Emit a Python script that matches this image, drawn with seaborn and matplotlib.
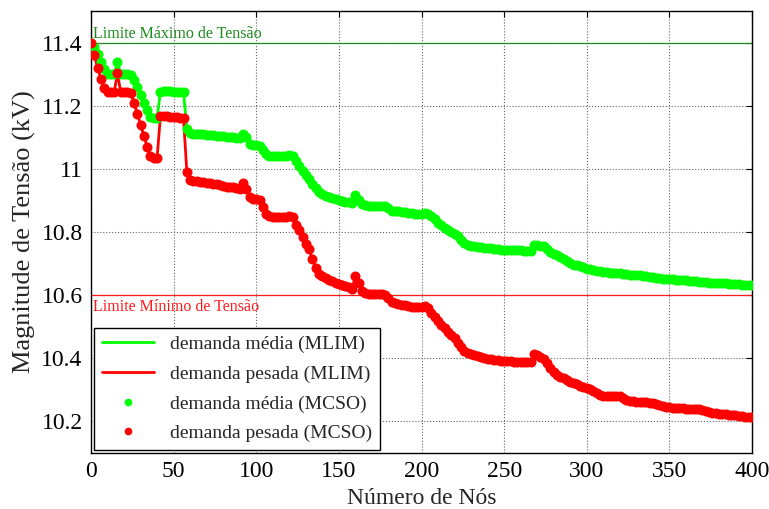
import matplotlib
matplotlib.use("Agg")
import matplotlib.pyplot as plt
import seaborn as sns
import pandas as pd
from matplotlib.lines import Line2D

# nós (passo 2) e tensões (kV)
nos = list(range(0, 401, 2))

media = [
    11.400, 11.385, 11.365, 11.340, 11.315, 11.300, 11.300, 11.300, 11.338, 11.300,
    11.300, 11.300, 11.298, 11.280, 11.258, 11.235, 11.210, 11.185, 11.163, 11.160,
    11.160, 11.245, 11.246, 11.246, 11.246, 11.245, 11.245, 11.245, 11.244, 11.125,
    11.112, 11.110, 11.110, 11.110, 11.109, 11.108, 11.107, 11.106, 11.105, 11.104,
    11.103, 11.102, 11.101, 11.100, 11.099, 11.097, 11.110, 11.100, 11.080, 11.075,
    11.075, 11.073, 11.060, 11.047, 11.042, 11.042, 11.042, 11.041, 11.041, 11.041,
    11.045, 11.040, 11.025, 11.008, 10.994, 10.982, 10.967, 10.952, 10.938, 10.926,
    10.920, 10.915, 10.910, 10.907, 10.904, 10.900, 10.898, 10.896, 10.894, 10.893,
    10.917, 10.900, 10.890, 10.884, 10.882, 10.882, 10.882, 10.881, 10.881, 10.881,
    10.876, 10.868, 10.866, 10.865, 10.864, 10.862, 10.860, 10.859, 10.858, 10.857,
    10.857, 10.861, 10.858, 10.850, 10.840, 10.830, 10.821, 10.813, 10.806, 10.800,
    10.795, 10.786, 10.776, 10.766, 10.760, 10.757, 10.755, 10.753, 10.751, 10.750,
    10.750, 10.749, 10.747, 10.745, 10.744, 10.744, 10.743, 10.743, 10.742, 10.742,
    10.742, 10.741, 10.741, 10.740, 10.760, 10.758, 10.757, 10.755, 10.747, 10.738,
    10.731, 10.727, 10.720, 10.713, 10.707, 10.701, 10.697, 10.695, 10.692, 10.689,
    10.684, 10.682, 10.679, 10.677, 10.675, 10.673, 10.672, 10.671, 10.671, 10.671,
    10.670, 10.668, 10.666, 10.665, 10.665, 10.664, 10.663, 10.662, 10.660, 10.658,
    10.656, 10.654, 10.653, 10.652, 10.651, 10.650, 10.650, 10.649, 10.648, 10.648,
    10.647, 10.646, 10.645, 10.644, 10.643, 10.643, 10.642, 10.640, 10.639, 10.638,
    10.638, 10.637, 10.637, 10.636, 10.635, 10.635, 10.634, 10.633, 10.632, 10.632,
    10.631,
]

pesada = [
    11.400, 11.360, 11.320, 11.285, 11.255, 11.243, 11.242, 11.242, 11.303, 11.242,
    11.242, 11.242, 11.240, 11.210, 11.175, 11.140, 11.105, 11.070, 11.040, 11.035,
    11.035, 11.166, 11.166, 11.166, 11.165, 11.164, 11.163, 11.162, 11.160, 10.990,
    10.966, 10.962, 10.960, 10.958, 10.957, 10.955, 10.954, 10.952, 10.951, 10.950,
    10.946, 10.944, 10.943, 10.941, 10.939, 10.937, 10.956, 10.935, 10.910, 10.903,
    10.903, 10.902, 10.880, 10.858, 10.850, 10.849, 10.849, 10.848, 10.848, 10.848,
    10.850, 10.846, 10.822, 10.805, 10.785, 10.762, 10.745, 10.715, 10.685, 10.668,
    10.660, 10.654, 10.647, 10.644, 10.640, 10.635, 10.631, 10.628, 10.625, 10.620,
    10.660, 10.640, 10.614, 10.606, 10.603, 10.603, 10.603, 10.603, 10.603, 10.602,
    10.590, 10.578, 10.574, 10.572, 10.570, 10.568, 10.566, 10.564, 10.562, 10.561,
    10.561, 10.566, 10.560, 10.545, 10.530, 10.517, 10.506, 10.496, 10.484, 10.474,
    10.465, 10.450, 10.435, 10.422, 10.416, 10.412, 10.409, 10.407, 10.405, 10.402,
    10.399, 10.397, 10.395, 10.393, 10.392, 10.391, 10.390, 10.390, 10.389, 10.389,
    10.388, 10.388, 10.387, 10.387, 10.414, 10.410, 10.405, 10.399, 10.385, 10.370,
    10.357, 10.347, 10.342, 10.338, 10.332, 10.326, 10.321, 10.318, 10.313, 10.308,
    10.305, 10.302, 10.296, 10.289, 10.284, 10.282, 10.282, 10.282, 10.282, 10.282,
    10.281, 10.275, 10.268, 10.266, 10.264, 10.263, 10.262, 10.261, 10.260, 10.259,
    10.258, 10.255, 10.251, 10.248, 10.246, 10.245, 10.244, 10.243, 10.242, 10.241,
    10.240, 10.240, 10.240, 10.240, 10.239, 10.235, 10.232, 10.229, 10.227, 10.226,
    10.225, 10.224, 10.222, 10.221, 10.220, 10.219, 10.218, 10.217, 10.215, 10.214,
    10.213,
]

lim_max = 11.4
lim_min = 10.6

rotulos = ['demanda média (MLIM)', 'demanda pesada (MLIM)',
           'demanda média (MCSO)', 'demanda pesada (MCSO)']

df = pd.DataFrame({'no': nos, 'media': media, 'pesada': pesada})

sns.set_style('white')
plt.rcParams['font.family'] = ['Liberation Serif', 'DejaVu Serif']

fig = plt.figure(figsize=(7.69, 5.09), dpi=100)
ax = fig.add_axes([91 / 769, 56 / 509, 661 / 769, 442 / 509])

verde = '#00ff00'
vermelho = '#ff0000'

# limites de tensão
ax.axhline(lim_max, color='#1e8c1e', lw=0.9, zorder=2)
ax.axhline(lim_min, color='#ff1a1a', lw=0.9, zorder=2)
ax.text(1, lim_max + 0.003, 'Limite Máximo de Tensão', color='#1e8c1e',
        fontsize=11.5, va='bottom', ha='left')
ax.text(1, lim_min - 0.012, 'Limite Mínimo de Tensão', color='#ff1a1a',
        fontsize=11.5, va='top', ha='left')

# MLIM (linhas) e MCSO (pontos)
sns.lineplot(data=df, x='no', y='media', color=verde, lw=2, ax=ax, zorder=3)
sns.lineplot(data=df, x='no', y='pesada', color=vermelho, lw=2, ax=ax, zorder=3)
sns.scatterplot(data=df, x='no', y='media', color=verde, s=52, linewidth=0, ax=ax, zorder=4)
sns.scatterplot(data=df, x='no', y='pesada', color=vermelho, s=52, linewidth=0, ax=ax, zorder=5)

ax.set_xlim(0, 400)
ax.set_ylim(10.1, 11.5)
ax.set_xticks(range(0, 401, 50))
ax.set_yticks([10.2, 10.4, 10.6, 10.8, 11.0, 11.2, 11.4])
ax.set_yticklabels(['10.2', '10.4', '10.6', '10.8', '11', '11.2', '11.4'])
ax.tick_params(direction='in', length=4, width=0.8, top=True, right=True,
               labelsize=17, colors='black', pad=6)
ax.grid(True, color='#666666', linestyle=':', linewidth=0.8)
for s in ax.spines.values():
    s.set_color('black')
    s.set_linewidth(1.0)

ax.set_xlabel('Número de Nós', fontsize=17, labelpad=4)
ax.set_ylabel('Magnitude de Tensão (kV)', fontsize=19, labelpad=4)

handles = [
    Line2D([], [], color=verde, lw=2),
    Line2D([], [], color=vermelho, lw=2),
    Line2D([], [], color=verde, marker='o', ls='none', markersize=4.5),
    Line2D([], [], color=vermelho, marker='o', ls='none', markersize=4.5),
]
leg = ax.legend(handles, rotulos, loc='lower left', fontsize=14,
                frameon=True, fancybox=False, edgecolor='black',
                framealpha=1, borderaxespad=0.15, handlelength=2.7,
                labelspacing=0.62, borderpad=0.4)
leg.get_frame().set_linewidth(1.0)

fig.savefig('out.png', dpi=100)
